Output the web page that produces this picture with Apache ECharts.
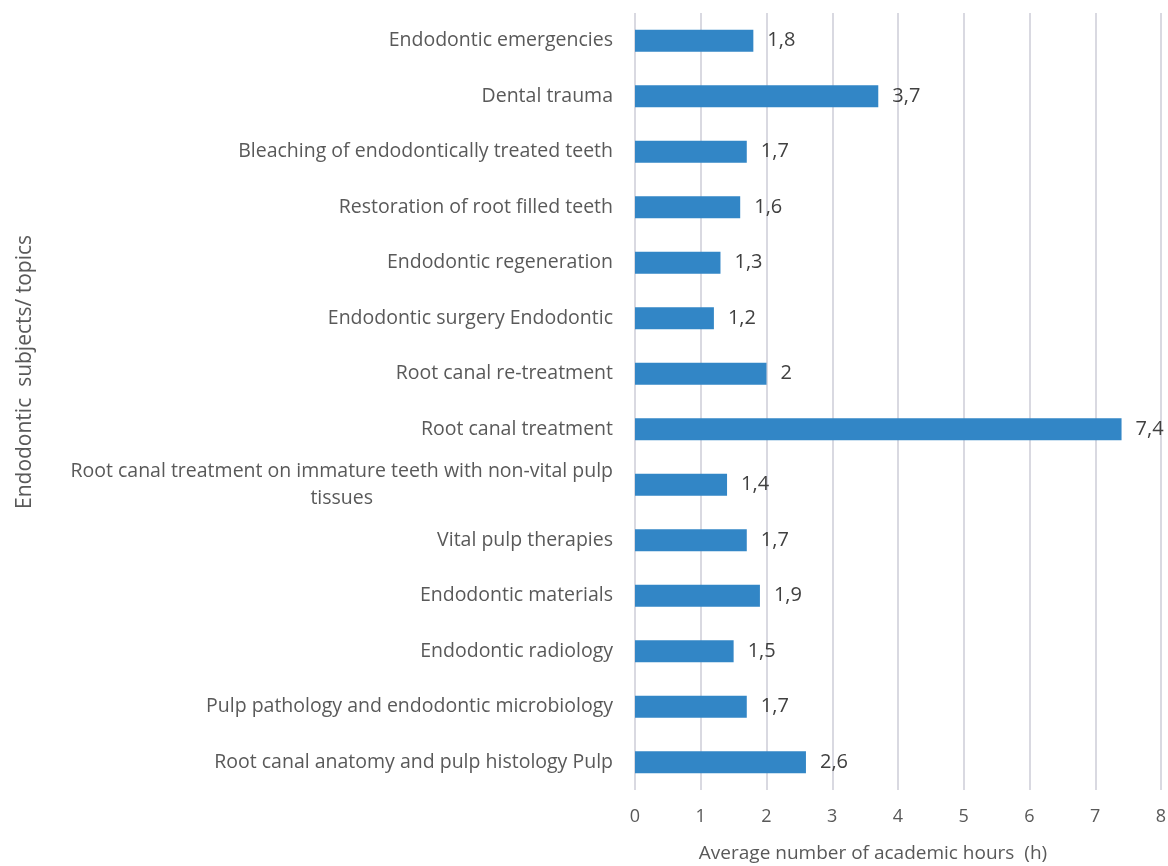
<!DOCTYPE html>
<html>
<head>
<meta charset="utf-8">
<script src="https://cdn.jsdelivr.net/npm/echarts@6/dist/echarts.min.js"></script>
<style>
  html, body { margin: 0; padding: 0; background: #fff; }
  #chart { width: 1168px; height: 866px; }
</style>
</head>
<body>
<div id="chart"></div>
<script>
// categories, bottom to top
var topics = [
    'Root canal anatomy and pulp histology Pulp',
    'Pulp pathology and endodontic microbiology',
    'Endodontic radiology',
    'Endodontic materials',
    'Vital pulp therapies',
    'Root canal treatment on immature teeth with non-vital pulp\ntissues',
    'Root canal treatment',
    'Root canal re-treatment',
    'Endodontic surgery Endodontic',
    'Endodontic regeneration',
    'Restoration of root filled teeth',
    'Bleaching of endodontically treated teeth',
    'Dental trauma',
    'Endodontic emergencies'
];
var hours = [2.6, 1.7, 1.5, 1.9, 1.7, 1.4, 7.4, 2, 1.2, 1.3, 1.6, 1.7, 3.7, 1.8];
var xTicks = [0, 1, 2, 3, 4, 5, 6, 7, 8];

var fontName = 'Open Sans';
var chart = echarts.init(document.getElementById('chart'));

var option = {
    backgroundColor: '#fff',
    animation: false,
    grid: {
        left: 635,
        right: 7,
        top: 13,
        bottom: 76,
        outerBoundsMode: 'none',
        containLabel: false
    },
    xAxis: {
        type: 'value',
        min: xTicks[0],
        max: xTicks[xTicks.length - 1],
        interval: 1,
        name: 'Average number of academic hours  (h)',
        nameLocation: 'middle',
        nameGap: 54,
        nameTextStyle: {
            color: '#595959',
            fontFamily: fontName,
            fontSize: 19,
            padding: [0, 50, 0, 0]
        },
        axisLine: { show: false },
        axisTick: { show: false },
        axisLabel: {
            color: '#595959',
            fontFamily: fontName,
            fontSize: 18,
            margin: 18
        },
        splitLine: {
            show: true,
            lineStyle: { color: '#d9d9e1', width: 2 }
        }
    },
    yAxis: {
        type: 'category',
        data: topics,
        axisLine: { show: false },
        axisTick: { show: false },
        axisLabel: {
            color: '#595959',
            fontFamily: fontName,
            fontSize: 19,
            margin: 22,
            lineHeight: 27,
            // wrapped label: lines centred on each other, block right-aligned
            formatter: function (v) {
                return v.split('\n').map(function (s) { return '{c|' + s + '}'; }).join('\n');
            },
            rich: {
                c: {
                    align: 'center',
                    color: '#595959',
                    fontFamily: fontName,
                    fontSize: 19.5,
                    lineHeight: 27
                }
            }
        }
    },
    graphic: [{
        type: 'text',
        left: 15,
        top: 235,
        rotation: Math.PI / 2,
        style: {
            text: 'Endodontic  subjects/ topics',
            fill: '#595959',
            font: '21px ' + fontName
        }
    }],
    series: [{
        type: 'bar',
        data: hours,
        barWidth: 22,
        itemStyle: { color: '#3286c6' },
        label: {
            show: true,
            position: 'right',
            distance: 14,
            color: '#404040',
            fontFamily: fontName,
            fontSize: 20,
            formatter: function (p) { return String(p.value).replace('.', ','); }
        }
    }]
};

chart.setOption(option);
</script>
</body>
</html>
